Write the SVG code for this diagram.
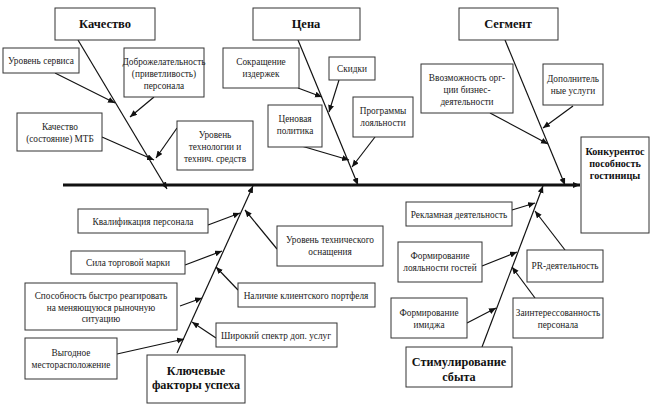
<svg xmlns="http://www.w3.org/2000/svg" width="657" height="411" viewBox="0 0 657 411" font-family="Liberation Serif, 'Times New Roman', serif">
<style>
.b{fill:#fff;stroke:#333;stroke-width:1}
.t{font-size:9.3px;fill:#222;text-anchor:middle}
.h{font-size:12.5px;font-weight:bold;fill:#111;text-anchor:middle}
.hb{font-size:12.2px}
.hs{font-size:10.2px}
.c line{stroke:#111;stroke-width:1.2;marker-end:url(#a)}
.c line.s{stroke-width:3}
</style>
<defs>
<marker id="a" markerUnits="userSpaceOnUse" markerWidth="8" markerHeight="8" refX="7" refY="3" orient="auto">
<path d="M0,0 L7,3 L0,6 z" fill="#111"/>
</marker>
</defs>
<rect width="657" height="411" fill="#fff"/>
<g class="c" id="connectors">
<line class="s" x1="63" y1="185" x2="580" y2="185"/>
<line x1="78" y1="40" x2="167" y2="189"/>
<line x1="298" y1="40" x2="358" y2="185"/>
<line x1="505" y1="40" x2="565" y2="185"/>
<line x1="177" y1="353" x2="253" y2="186"/>
<line x1="482" y1="347" x2="543" y2="186"/>
<line x1="55" y1="73" x2="115" y2="103"/>
<line x1="154" y1="97" x2="130" y2="117"/>
<line x1="102" y1="137" x2="154" y2="160"/>
<line x1="177" y1="128" x2="156" y2="158"/>
<line x1="298" y1="88" x2="322" y2="97"/>
<line x1="339" y1="80" x2="329" y2="112"/>
<line x1="298" y1="145" x2="349" y2="160"/>
<line x1="375" y1="137" x2="352" y2="167"/>
<line x1="490" y1="113" x2="548" y2="144"/>
<line x1="573" y1="106" x2="543" y2="128"/>
<line x1="208" y1="225" x2="240" y2="213"/>
<line x1="277" y1="249" x2="245" y2="210"/>
<line x1="185" y1="265" x2="222" y2="251"/>
<line x1="238" y1="290" x2="216" y2="267"/>
<line x1="180" y1="306" x2="202" y2="298"/>
<line x1="216" y1="338" x2="192" y2="322"/>
<line x1="117" y1="354" x2="184" y2="339"/>
<line x1="512" y1="210" x2="535" y2="203"/>
<line x1="565" y1="250" x2="535" y2="211"/>
<line x1="482" y1="266" x2="517" y2="252"/>
<line x1="535" y1="298" x2="512" y2="267"/>
<line x1="467" y1="323" x2="496" y2="308"/>
</g>
<g id="kachestvo"><rect class="b" x="55" y="8" width="100" height="32"/><text class="h" x="105" y="28">Качество</text></g>
<g id="tsena"><rect class="b" x="253" y="8" width="107" height="32"/><text class="h" x="306" y="28">Цена</text></g>
<g id="segment"><rect class="b" x="459" y="8" width="99" height="32"/><text class="h" x="508" y="28">Сегмент</text></g>
<g id="konkurent"><rect class="b" x="581" y="137" width="68" height="96"/><text class="h hs" x="615" y="155">Конкурентос</text><text class="h hs" x="615" y="167">пособность</text><text class="h hs" x="615" y="179">гостиницы</text></g>
<g id="kfu"><rect class="b" x="147" y="355" width="98" height="48"/><text class="h hb" x="196" y="375">Ключевые</text><text class="h hb" x="196" y="389">факторы успеха</text></g>
<g id="stim"><rect class="b" x="406" y="347" width="106" height="40"/><text class="h hb" x="459" y="366">Стимулирование</text><text class="h hb" x="459" y="381">сбыта</text></g>
<g id="uroven-servisa"><rect class="b" x="3" y="48" width="76" height="25"/><text class="t" x="41" y="64">Уровень сервиса</text></g>
<g id="dobro"><rect class="b" x="124" y="48" width="80" height="49"/><text class="t" x="164" y="65">Доброжелательность</text><text class="t" x="164" y="77">(приветливость)</text><text class="t" x="164" y="89">персонала</text></g>
<g id="mtb"><rect class="b" x="17" y="113" width="85" height="38"/><text class="t" x="60" y="130">Качество</text><text class="t" x="60" y="142">(состояние) МТБ</text></g>
<g id="tehnol"><rect class="b" x="177" y="121" width="76" height="49"/><text class="t" x="215" y="138">Уровень</text><text class="t" x="215" y="150">технологии и</text><text class="t" x="215" y="162">технич. средств</text></g>
<g id="sokr"><rect class="b" x="223" y="48" width="76" height="40"/><text class="t" x="261" y="65">Сокращение</text><text class="t" x="261" y="77">издержек</text></g>
<g id="skidki"><rect class="b" x="329" y="57" width="46" height="23"/><text class="t" x="352" y="72">Скидки</text></g>
<g id="tsenpol"><rect class="b" x="268" y="105" width="54" height="42"/><text class="t" x="295" y="122">Ценовая</text><text class="t" x="295" y="134">политика</text></g>
<g id="progr"><rect class="b" x="353" y="97" width="60" height="40"/><text class="t" x="383" y="114">Программы</text><text class="t" x="383" y="126">лояльности</text></g>
<g id="vozm"><rect class="b" x="421" y="64" width="92" height="49"/><text class="t" x="467" y="81">Ввозможность орг-</text><text class="t" x="467" y="93">ции бизнес-</text><text class="t" x="467" y="105">деятельности</text></g>
<g id="dopusl"><rect class="b" x="543" y="64" width="60" height="41"/><text class="t" x="573" y="82">Дополнитель</text><text class="t" x="573" y="94">ные услуги</text></g>
<g id="kval"><rect class="b" x="78" y="209" width="130" height="24"/><text class="t" x="143" y="225">Квалификация персонала</text></g>
<g id="sila"><rect class="b" x="71" y="251" width="114" height="23"/><text class="t" x="128" y="266">Сила торговой марки</text></g>
<g id="sposob"><rect class="b" x="25" y="283" width="152" height="47"/><text class="t" x="101" y="299">Способность быстро реагировать</text><text class="t" x="101" y="311">на меняющуюся рыночную</text><text class="t" x="101" y="322">ситуацию</text></g>
<g id="vygod"><rect class="b" x="25" y="338" width="92" height="41"/><text class="t" x="71" y="356">Выгодное</text><text class="t" x="71" y="368">месторасположение</text></g>
<g id="osnasch"><rect class="b" x="277" y="226" width="106" height="40"/><text class="t" x="330" y="243">Уровень технического</text><text class="t" x="330" y="255">оснащения</text></g>
<g id="portfel"><rect class="b" x="238" y="283" width="137" height="24"/><text class="t" x="306" y="299">Наличие клиентского портфеля</text></g>
<g id="spektr"><rect class="b" x="216" y="323" width="121" height="24"/><text class="t" x="276" y="339">Широкий спектр доп. услуг</text></g>
<g id="reklama"><rect class="b" x="406" y="202" width="106" height="24"/><text class="t" x="459" y="218">Рекламная деятельность</text></g>
<g id="pr"><rect class="b" x="527" y="250" width="76" height="32"/><text class="t" x="565" y="269">PR-деятельность</text></g>
<g id="loyal"><rect class="b" x="398" y="242" width="84" height="40"/><text class="t" x="440" y="259">Формирование</text><text class="t" x="440" y="271">лояльности гостей</text></g>
<g id="zainter"><rect class="b" x="513" y="298" width="90" height="40"/><text class="t" x="558" y="316">Заинтерессованность</text><text class="t" x="558" y="328">персонала</text></g>
<g id="imidzh"><rect class="b" x="391" y="298" width="76" height="40"/><text class="t" x="429" y="316">Формирование</text><text class="t" x="429" y="328">имиджа</text></g>
</svg>
